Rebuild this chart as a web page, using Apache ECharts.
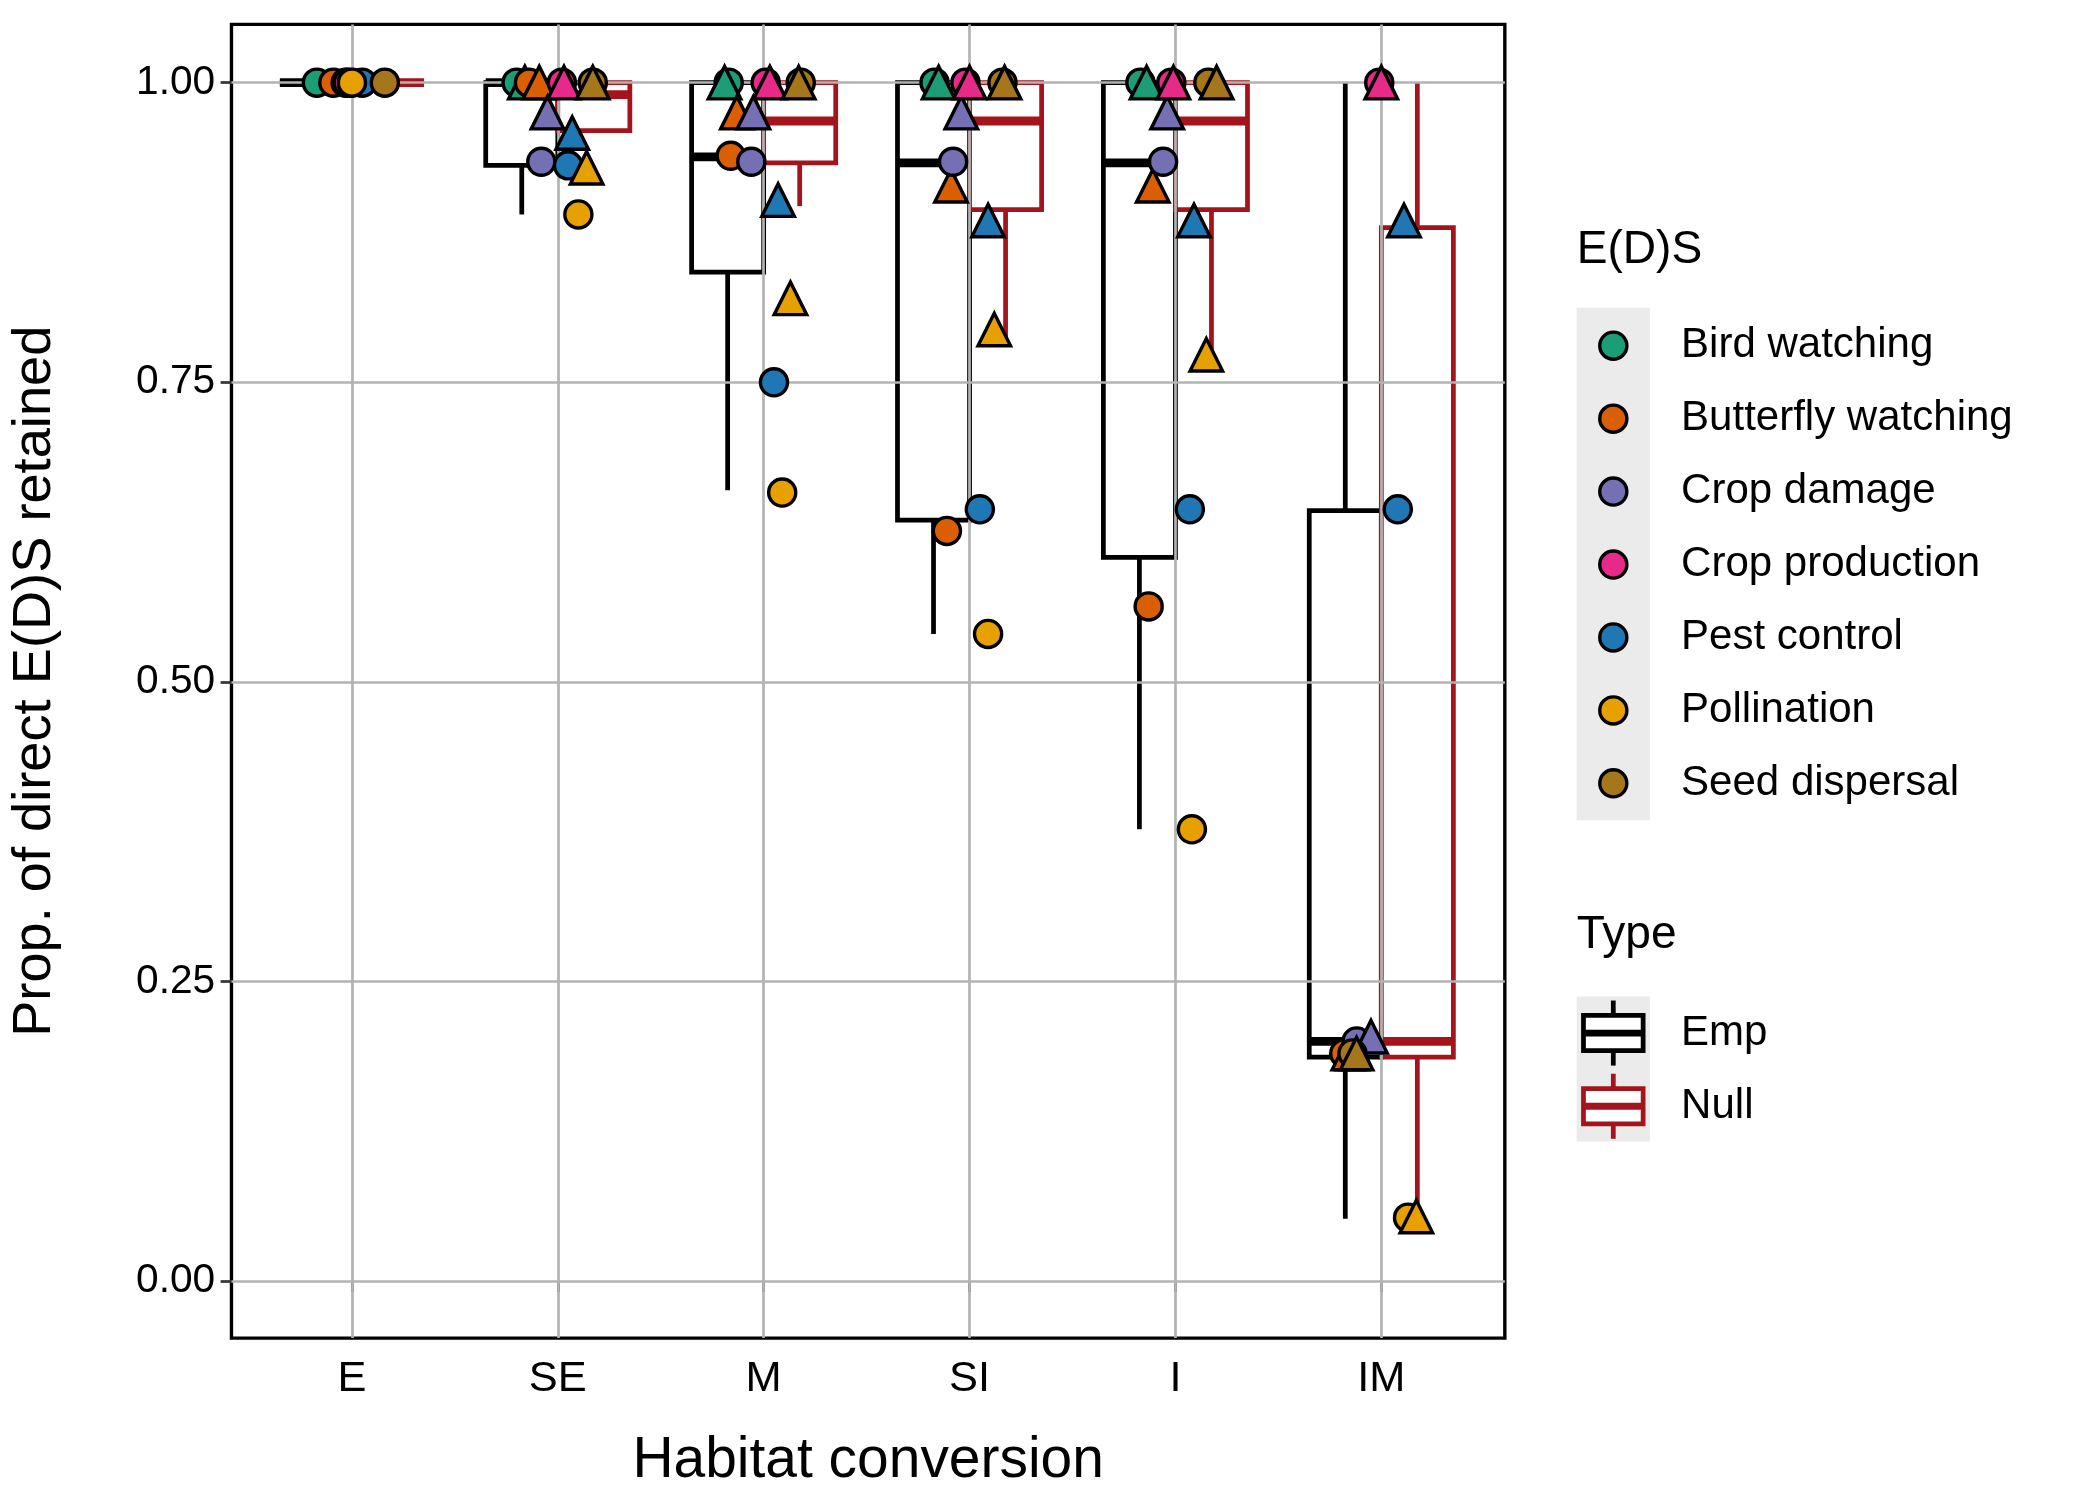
<!DOCTYPE html>
<html>
<head>
<meta charset="utf-8">
<style>
    html, body { margin: 0; padding: 0; background: #fff; overflow: hidden; }
    #main { width: 2100px; height: 1500px; }
</style>
</head>
<body>
<div id="main"></div>
<script src="https://cdn.jsdelivr.net/npm/echarts@6/dist/echarts.min.js"></script>
<script>
    var categories = ['E', 'SE', 'M', 'SI', 'I', 'IM'];
    var yTicks = [0, 0.25, 0.5, 0.75, 1];
    var services = ['Bird watching', 'Butterfly watching', 'Crop damage', 'Crop production', 'Pest control', 'Pollination', 'Seed dispersal'];
    var colors = ['#1b9e77', '#d95f02', '#7570b3', '#e7298a', '#1f78b4', '#e6a000', '#a6761d'];

    // boxes: [category index, low, q1, median, q3, high]
    var empBoxes = [
        [0, 1, 1, 1, 1, 1],
        [1, 0.89, 0.931, 1, 1, 1],
        [2, 0.66, 0.842, 0.938, 1, 1],
        [3, 0.54, 0.635, 0.933, 1, 1],
        [4, 0.377, 0.604, 0.933, 1, 1],
        [5, 0.052, 0.187, 0.2, 0.643, 1]
    ];
    var nullBoxes = [
        [0, 1, 1, 1, 1, 1],
        [1, 0.96, 0.96, 0.99, 1, 1],
        [2, 0.897, 0.933, 0.968, 1, 1],
        [3, 0.786, 0.894, 0.968, 1, 1],
        [4, 0.775, 0.894, 0.968, 1, 1],
        [5, 0.054, 0.187, 0.2, 0.879, 1]
    ];

    // points per service: [x position (category + jitter), value]
    var empPoints = [
        [[0.83, 1], [1.8, 1], [2.83, 1], [3.83, 1], [4.83, 1], [5.83, 0.19]],
        [[0.91, 1], [1.86, 1], [2.84, 0.939], [3.89, 0.626], [4.87, 0.563], [5.82, 0.19]],
        [[0.97, 1], [1.92, 0.934], [2.94, 0.934], [3.92, 0.934], [4.94, 0.934], [5.88, 0.2]],
        [[0.98, 1], [2.02, 1], [3.01, 1], [3.98, 1], [4.98, 1], [5.99, 1]],
        [[1.05, 1], [2.05, 0.931], [3.05, 0.75], [4.05, 0.644], [5.07, 0.644], [6.08, 0.644]],
        [[1.0, 1], [2.1, 0.89], [3.09, 0.658], [4.09, 0.54], [5.08, 0.377], [6.13, 0.053]],
        [[1.16, 1], [2.17, 1], [3.18, 1], [4.16, 1], [5.16, 1], [5.86, 0.19]]
    ];
    var nullPoints = [
        [[1.84, 1], [2.81, 1], [3.85, 1], [4.86, 1], [5.86, 0.19]],
        [[1.91, 1], [2.87, 0.975], [3.91, 0.914], [4.89, 0.914], [5.84, 0.19]],
        [[1.95, 0.975], [2.95, 0.975], [3.96, 0.975], [4.96, 0.975], [5.95, 0.204]],
        [[2.03, 1], [3.03, 1], [4.0, 1], [4.99, 1], [6.0, 1]],
        [[2.07, 0.958], [3.07, 0.902], [4.09, 0.885], [5.09, 0.885], [6.11, 0.885]],
        [[2.14, 0.929], [3.13, 0.82], [4.12, 0.794], [5.15, 0.773], [6.17, 0.054]],
        [[2.17, 1], [3.17, 1], [4.17, 1], [5.2, 1], [5.88, 0.19]]
    ];

    var chart = echarts.init(document.getElementById('main'));
    var FONT = 'Liberation Sans, Arial, sans-serif';
    var S = 2100 / 1549;
    var BOXW = 0.35;

    function boxRender(side, color) {
        return function (params, api) {
            var c = api.value(0) + 1;
            var x0 = side < 0 ? c - BOXW : c, x1 = side < 0 ? c : c + BOXW;
            var pLow = api.coord([c, api.value(1)]);
            var pQ1 = api.coord([x0, api.value(2)]);
            var pMed = api.coord([x1, api.value(3)]);
            var pQ3 = api.coord([x1, api.value(4)]);
            var pHigh = api.coord([c, api.value(5)]);
            var left = pQ1[0], right = pMed[0], mid = (left + right) / 2;
            var st = {stroke: color, lineWidth: 3.5 * S, fill: 'none'};
            return {
                type: 'group',
                children: [
                    {type: 'line', shape: {x1: mid, y1: pQ1[1], x2: mid, y2: pLow[1]}, style: st},
                    {type: 'line', shape: {x1: mid, y1: pQ3[1], x2: mid, y2: pHigh[1]}, style: st},
                    {type: 'rect', shape: {x: left, y: pQ3[1], width: right - left, height: pQ1[1] - pQ3[1]},
                        style: {stroke: color, lineWidth: 3.5 * S, fill: '#fff'}},
                    {type: 'line', shape: {x1: left, y1: pMed[1], x2: right, y2: pMed[1]},
                        style: {stroke: color, lineWidth: 6.5 * S}}
                ]
            };
        };
    }

    var series = [
        {
            type: 'line', data: [], silent: true,
            markLine: {
                symbol: 'none', silent: true, label: {show: false}, animation: false,
                lineStyle: {color: '#b3b3b3', width: 2 * S, type: 'solid'},
                data: categories.map(function (c, i) { return {xAxis: i + 1}; })
                    .concat(yTicks.map(function (v) { return {yAxis: v}; }))
            }
        },
        {type: 'custom', renderItem: boxRender(-1, '#000'), data: empBoxes, z: 3},
        {type: 'custom', renderItem: boxRender(1, '#a3141c'), data: nullBoxes, z: 3}
    ];
    services.forEach(function (s, i) {
        series.push({
            type: 'scatter', name: s, data: empPoints[i], symbol: 'circle', symbolSize: 20 * S, z: 5,
            itemStyle: {color: colors[i], borderColor: '#000', borderWidth: 2.5 * S, opacity: 1}
        });
        series.push({
            type: 'scatter', name: s, data: nullPoints[i], symbol: 'triangle', symbolSize: 24 * S, z: 5,
            itemStyle: {color: colors[i], borderColor: '#000', borderWidth: 2.5 * S, opacity: 1}
        });
    });

    var graphic = [
        {type: 'text', left: 1163 * S, top: 168 * S, style: {text: 'E(D)S', font: (34 * S) + 'px ' + FONT, fill: '#000'}},
        {type: 'rect', shape: {x: 1163 * S, y: 227 * S, width: 54 * S, height: 378 * S}, style: {fill: '#ebebeb'}},
        {type: 'text', left: 1163 * S, top: 673 * S, style: {text: 'Type', font: (34 * S) + 'px ' + FONT, fill: '#000'}},
        {type: 'rect', shape: {x: 1163 * S, y: 735 * S, width: 54 * S, height: 107 * S}, style: {fill: '#ebebeb'}}
    ];
    services.forEach(function (s, i) {
        var y = (255 + i * 53.8) * S;
        graphic.push({type: 'circle', shape: {cx: 1190 * S, cy: y, r: 10 * S},
            style: {fill: colors[i], stroke: '#000', lineWidth: 2.5 * S}});
        graphic.push({type: 'text', x: 1240 * S, y: y, style: {text: s, font: (31 * S) + 'px ' + FONT, fill: '#000', textVerticalAlign: 'middle'}});
    });
    [['Emp', '#000', 762], ['Null', '#a3141c', 816]].forEach(function (t) {
        var y = t[2] * S;
        graphic.push({type: 'line', shape: {x1: 1190 * S, y1: y - 24 * S, x2: 1190 * S, y2: y + 24 * S}, style: {stroke: t[1], lineWidth: 3.5 * S}});
        graphic.push({type: 'rect', shape: {x: 1168 * S, y: y - 13 * S, width: 44 * S, height: 26 * S}, style: {fill: '#fff', stroke: t[1], lineWidth: 3.5 * S}});
        graphic.push({type: 'line', shape: {x1: 1168 * S, y1: y, x2: 1212 * S, y2: y}, style: {stroke: t[1], lineWidth: 5 * S}});
        graphic.push({type: 'text', x: 1240 * S, y: y, style: {text: t[0], font: (31 * S) + 'px ' + FONT, fill: '#000', textVerticalAlign: 'middle'}});
    });

    chart.setOption({
        animation: false,
        grid: {left: 170 * S, top: 18 * S, width: 940 * S, height: 969 * S, show: true, borderColor: '#000', borderWidth: 2.5 * S, backgroundColor: '#fff'},
        xAxis: {
            type: 'value', min: 0.415, max: 6.6,
            name: 'Habitat conversion', nameLocation: 'middle', nameGap: 70 * S,
            nameTextStyle: {fontSize: 42 * S, fontFamily: FONT, color: '#000'},
            axisLine: {show: false},
            splitLine: {show: false},
            axisTick: {show: true, customValues: [1, 2, 3, 4, 5, 6], length: 8 * S, lineStyle: {color: '#333', width: 2 * S}},
            axisLabel: {customValues: [1, 2, 3, 4, 5, 6], fontSize: 32 * S, fontFamily: FONT, color: '#000', margin: 14 * S,
                formatter: function (v) { return categories[Math.round(v) - 1]; }}
        },
        yAxis: {
            type: 'value', min: -0.0475, max: 1.0486,
            name: 'Prop. of direct E(D)S retained', nameLocation: 'middle', nameGap: 125 * S,
            nameTextStyle: {fontSize: 40 * S, fontFamily: FONT, color: '#000'},
            axisLine: {show: false},
            splitLine: {show: false},
            axisTick: {show: true, customValues: yTicks, length: 8 * S, lineStyle: {color: '#333', width: 2 * S}},
            axisLabel: {customValues: yTicks, fontSize: 30 * S, fontFamily: FONT, color: '#000', margin: 12 * S,
                formatter: function (v) { return v.toFixed(2); }}
        },
        graphic: graphic,
        series: series
    });
</script>
</body>
</html>
